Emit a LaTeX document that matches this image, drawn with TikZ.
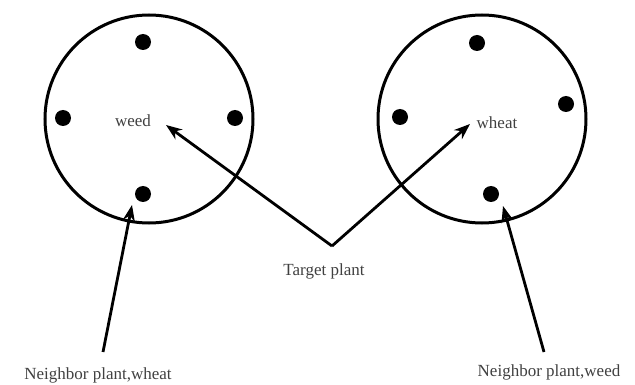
\documentclass[tikz,border=0pt]{standalone}
\usepackage{fontspec}
\setmainfont{Liberation Serif}
\usetikzlibrary{arrows.meta}

\begin{document}
\begin{tikzpicture}[
    x=1pt, y=-1pt,
    field/.style={draw, circle, line width=3pt, minimum size=208pt, inner sep=0pt},
    plant/.style={fill, circle, minimum size=16pt, inner sep=0pt},
    txt/.style={text=black!75, font=\fontsize{17}{19}\selectfont, inner sep=1pt},
    arrow/.style={-{Stealth[length=16pt,width=12pt]}, line width=2.8pt, line join=round}
]
\useasboundingbox (0,0) rectangle (635,385);
% the two plots
\node[field] (leftplot) at (149,119) {};
\node[field] (rightplot) at (482,119) {};
% plants of the left plot
\node[plant] (l1) at (143,42) {};
\node[plant] (l2) at (63,118) {};
\node[plant] (l3) at (235,118) {};
\node[plant] (l4) at (143,194) {};
% plants of the right plot
\node[plant] (r1) at (477,43) {};
\node[plant] (r2) at (400,117) {};
\node[plant] (r3) at (566,104) {};
\node[plant] (r4) at (491,194) {};
% labels
\node[txt] (weed) at (133,121) {weed};
\node[txt] (wheat) at (497,123) {wheat};
\node[txt] (target) at (324,271) {Target plant};
\node[txt] (nwheat) at (98,375) {Neighbor plant,wheat};
\node[txt] (nweed) at (549,372) {Neighbor plant,weed};
% arrow ends
\coordinate (apex) at (332,246);
\coordinate (weedtip) at (166,125);
\coordinate (wheattip) at (470,124);
\coordinate (lstart) at (103,352);
\coordinate (ltip) at (132,205);
\coordinate (rstart) at (544,352);
\coordinate (rtip) at (503,206);
\draw[arrow] (apex) -- (weedtip);
\draw[arrow] (apex) -- (wheattip);
\draw[arrow] (lstart) -- (ltip);
\draw[arrow] (rstart) -- (rtip);
\end{tikzpicture}
\end{document}
